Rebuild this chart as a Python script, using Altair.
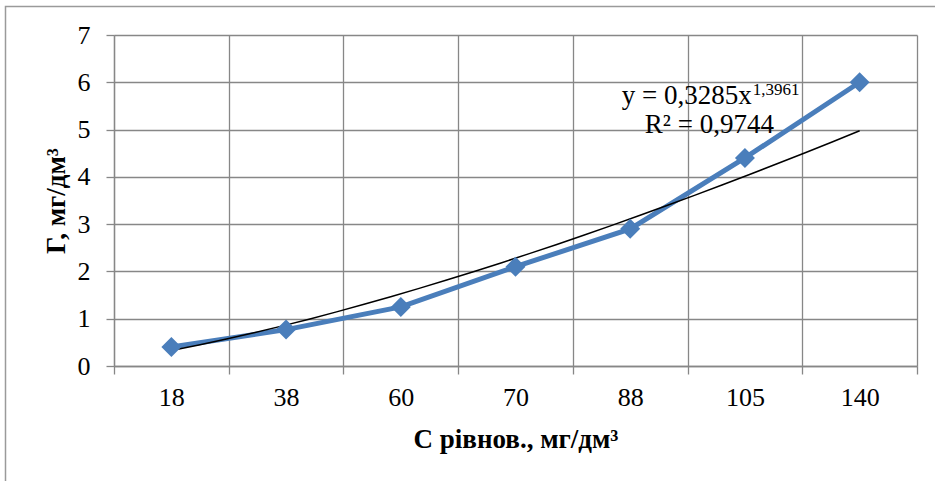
import altair as alt
import pandas as pd

# Equilibrium concentration categories and adsorption values
categories = ["18", "38", "60", "70", "88", "105", "140"]
gamma = [0.40, 0.77, 1.25, 2.10, 2.90, 4.40, 6.00]
index = list(range(1, len(categories) + 1))

# Trendline annotation (power fit)
eq_main = ["y = 0,3285x"]
eq_power = ["1,3961"]
eq_r2 = ["R² = 0,9744"]

FONT = "Liberation Serif"
BLUE = "#4A7EBB"
GRID = "#878787"

W, H = 803, 331
band = W / len(categories)

df = pd.DataFrame({"i": index, "c": categories, "g": gamma})

label_arr = "[" + ",".join(f"'{c}'" for c in categories) + "]"
label_expr = (
    f"floor(datum.value) < {len(categories)} ? {label_arr}[floor(datum.value)] : ''"
)

x_scale = alt.Scale(domain=[0.5, len(categories) + 0.5], nice=False, zero=False)
y_scale = alt.Scale(domain=[0, 7], nice=False)

x_axis = alt.Axis(
    values=[k + 0.5 for k in range(len(categories) + 1)],
    labelExpr=label_expr,
    labelOffset=band / 2,
    labelFlush=False,
    labelOverlap=False,
    labelBound=False,
    grid=True,
    gridColor=GRID,
    gridWidth=1.3,
    tickColor=GRID,
    tickWidth=1.3,
    tickSize=8,
    domainColor=GRID,
    domainWidth=1.3,
    labelFont=FONT,
    labelFontSize=26,
    labelColor="#000000",
    labelPadding=10,
    title="С рівнов., мг/дм³",
    titleFont=FONT,
    titleFontSize=27,
    titleFontWeight="bold",
    titleColor="#000000",
    titleBaseline="alphabetic",
    titleY=81,
)

y_axis = alt.Axis(
    values=list(range(0, 8)),
    grid=True,
    gridColor=GRID,
    gridWidth=1.3,
    tickColor=GRID,
    tickWidth=1.3,
    tickSize=8,
    domainColor=GRID,
    domainWidth=1.3,
    labelFont=FONT,
    labelFontSize=26,
    labelColor="#000000",
    labelPadding=16,
    title="Г, мг/дм³",
    titleFont=FONT,
    titleFontSize=27,
    titleFontWeight="bold",
    titleColor="#000000",
    titleBaseline="alphabetic",
    titleX=-50,
)

base = alt.Chart(df)

frame = alt.Chart(pd.DataFrame({"k": [0]})).mark_rect(
    fill=None, stroke="#9a9a9a", strokeWidth=1.5
).encode(
    x=alt.value(-108.5), x2=alt.value(W + 40),
    y=alt.value(-28.5), y2=alt.value(H + 140),
)

line = base.mark_line(color=BLUE, strokeWidth=5).encode(
    x=alt.X("i:Q", scale=x_scale, axis=x_axis),
    y=alt.Y("g:Q", scale=y_scale, axis=y_axis),
)

points = base.mark_point(
    shape="diamond", filled=True, size=400, color=BLUE, opacity=1
).encode(
    x=alt.X("i:Q", scale=x_scale),
    y=alt.Y("g:Q", scale=y_scale),
)

trend = base.transform_regression(
    "i", "g", method="pow", extent=[1, len(categories)]
).mark_line(color="#000000", strokeWidth=1.5).encode(
    x=alt.X("i:Q", scale=x_scale),
    y=alt.Y("g:Q", scale=y_scale),
)

txt_style = dict(font=FONT, fontSize=27, color="#000000", baseline="alphabetic")

eq1 = alt.Chart(pd.DataFrame({"x": [6.06], "y": [5.54], "t": eq_main})).mark_text(
    align="right", **txt_style
).encode(x=alt.X("x:Q", scale=x_scale), y=alt.Y("y:Q", scale=y_scale), text="t:N")

eq_sup = alt.Chart(pd.DataFrame({"x": [6.06], "y": [5.74], "t": eq_power})).mark_text(
    align="left", dx=1, font=FONT, fontSize=17, color="#000000", baseline="alphabetic"
).encode(x=alt.X("x:Q", scale=x_scale), y=alt.Y("y:Q", scale=y_scale), text="t:N")

eq2 = alt.Chart(pd.DataFrame({"x": [5.69], "y": [4.93], "t": eq_r2})).mark_text(
    align="center", **txt_style
).encode(x=alt.X("x:Q", scale=x_scale), y=alt.Y("y:Q", scale=y_scale), text="t:N")

chart = alt.layer(frame, line, trend, points, eq1, eq_sup, eq2).properties(
    width=W,
    height=H,
    autosize=alt.AutoSizeParams(type="none"),
    padding={"left": 114, "top": 35, "right": 935 - 114 - W, "bottom": 481 - 35 - H},
    background="#ffffff",
).configure_view(stroke=None)

chart.save("out.html", embed_options={"renderer": "svg", "actions": False})
